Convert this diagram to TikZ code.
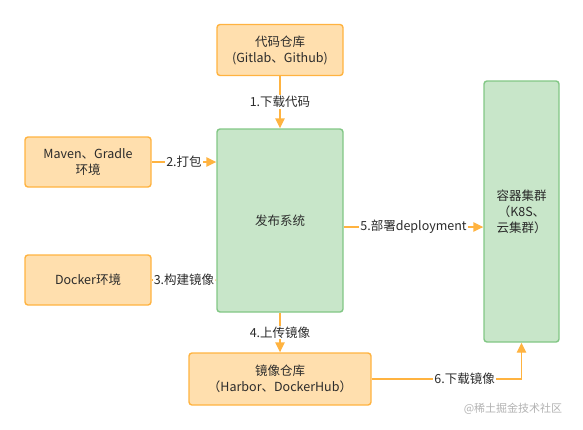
\documentclass[tikz,border=0pt]{standalone}
\usepackage{fontspec}
\setmainfont{Noto Sans CJK SC}
\usetikzlibrary{arrows,arrows.meta,positioning,calc}

\definecolor{boxorange}{HTML}{FFDFAE}
\definecolor{lineorange}{HTML}{FFB340}
\definecolor{boxgreen}{HTML}{C8E6C9}
\definecolor{linegreen}{HTML}{82C785}
\definecolor{textgray}{HTML}{2B2B2B}

\tikzset{
  orangebox/.style={shape=rectangle,draw=lineorange,fill=boxorange,line width=1.4pt,rounded corners=3pt,align=center},
  greenbox/.style={shape=rectangle,draw=linegreen,fill=boxgreen,line width=1.4pt,rounded corners=3pt,align=center},
  flow/.style={draw=lineorange,line width=1.4pt,arrows=-{Triangle[width=9.5pt,length=10pt]}},
  steplabel/.style={fill=white,inner sep=1pt,text=textgray}
}

\begin{document}
\begin{tikzpicture}[x=1pt,y=-1pt,font=\fontsize{12.5}{16}\selectfont,text=textgray]
\useasboundingbox (0,0) rectangle (583,429);

\node[orangebox,minimum width=126pt,minimum height=51pt] (R) at (280,50) {代码仓库\\(Gitlab、Github)};
\node[greenbox,minimum width=126pt,minimum height=183pt] (P) at (280,220.5) {发布系统};
\node[orangebox,minimum width=126pt,minimum height=50pt] (M) at (88,162) {Maven、Gradle\\环境};
\node[orangebox,minimum width=126pt,minimum height=50pt] (D) at (88,280) {Docker环境};
\node[greenbox,minimum width=75pt,minimum height=261pt] (C) at (521.5,211.5) {容器集群\\（K8S、\\云集群）};
\node[orangebox,minimum width=182pt,minimum height=52pt] (I) at (280,379) {镜像仓库\\（Harbor、DockerHub）};

\draw[flow] (R) -- node[steplabel] {1.下载代码} (P);
\draw[flow] (M) -- node[steplabel] {2.打包} (M -| P.west);
\draw[flow] (D) -- node[steplabel] {3.构建镜像} (D -| P.west);
\draw[flow] (P) -- node[steplabel] {4.上传镜像} (I);
\draw[flow] ([yshift=-6.5pt]P.east) -- node[steplabel] {5.部署deployment} ([yshift=-6.5pt]P.east -| C.west);
\draw[flow] (I) -| node[steplabel,pos=0.31] {6.下载镜像} (C);

\node[text=black!30,font=\fontsize{11}{12}\selectfont] (W) at (513,409) {@稀土掘金技术社区};
\end{tikzpicture}
\end{document}
